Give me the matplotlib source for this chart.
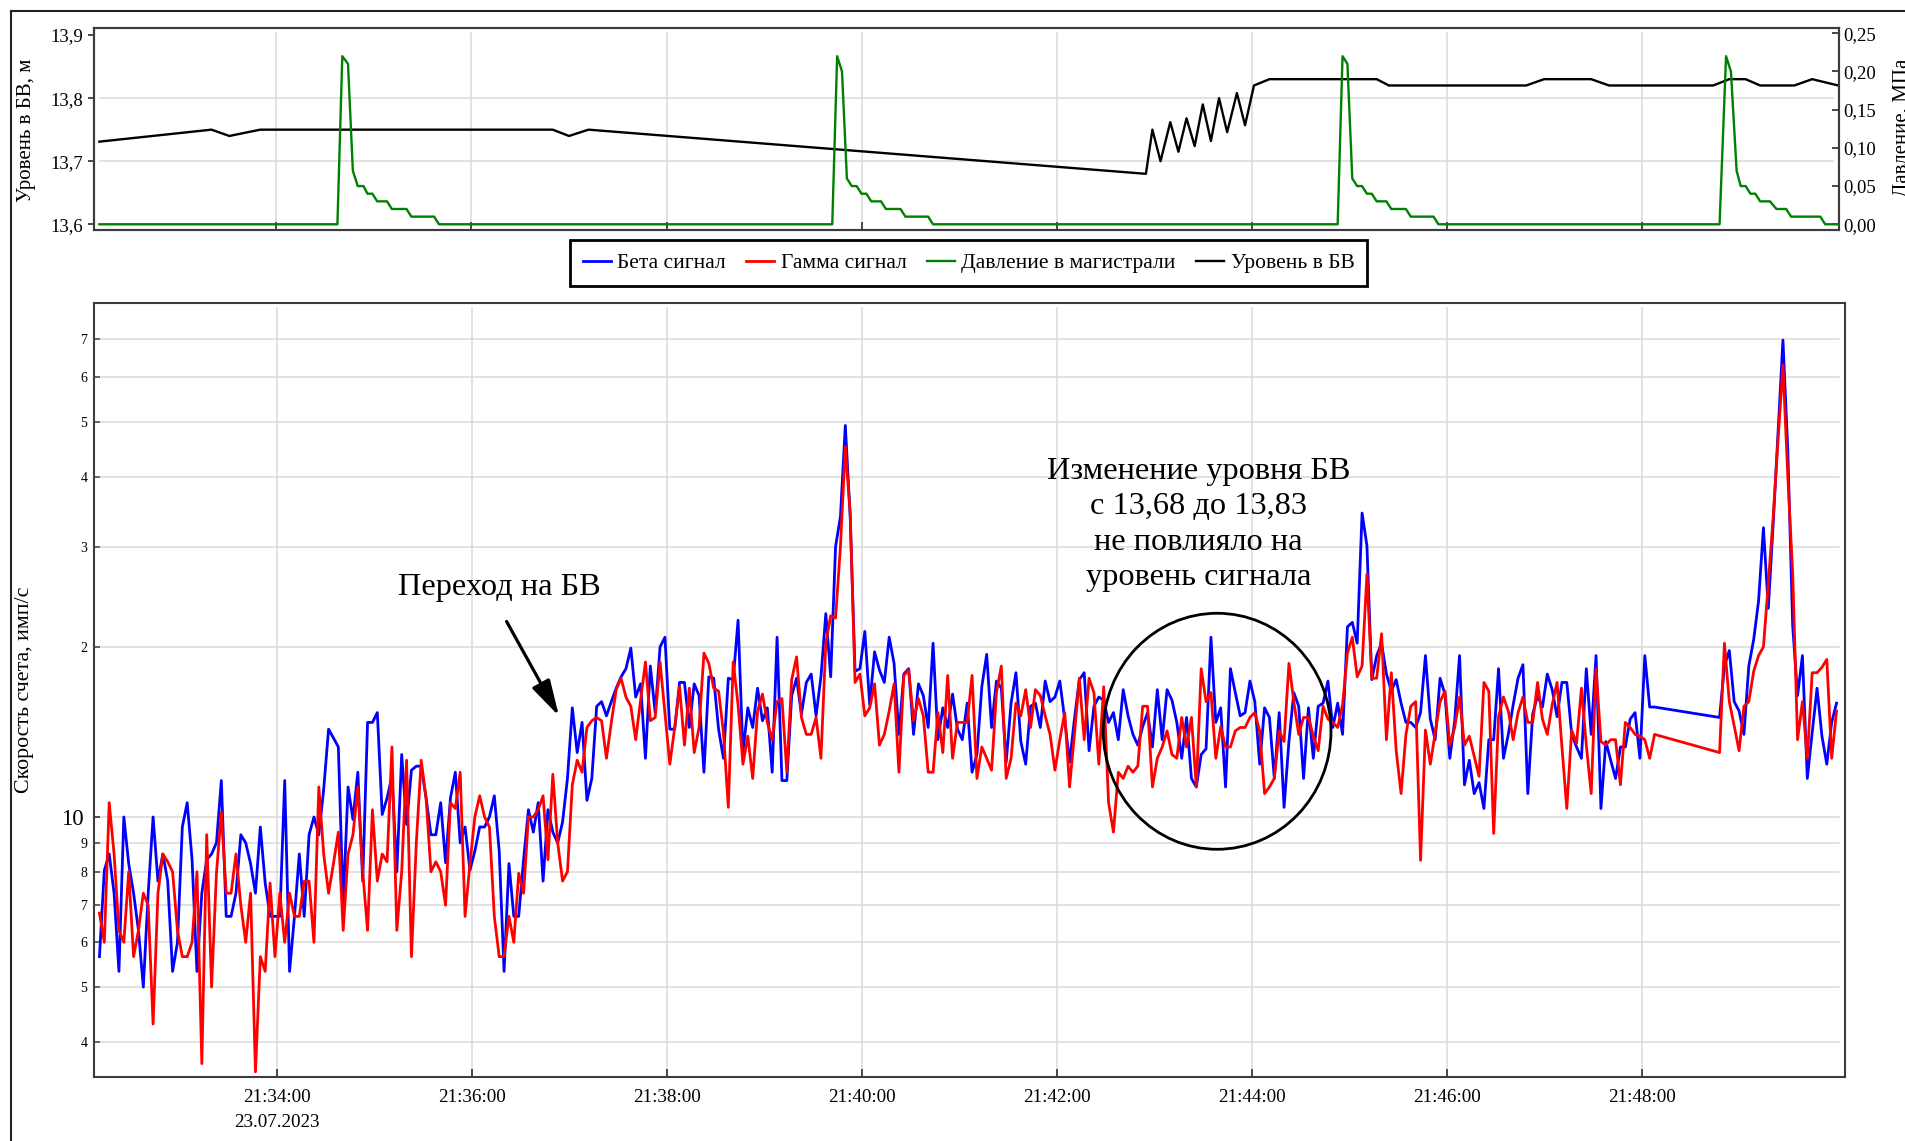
import numpy as np
import pandas as pd
import matplotlib
matplotlib.use('Agg')
import matplotlib.pyplot as plt
from matplotlib.patches import Ellipse
from matplotlib.lines import Line2D
import matplotlib.dates as mdates

plt.rcParams['font.family'] = ['Liberation Serif', 'DejaVu Serif']

day = '2023-07-23'
t_zero = '21:32:00'

# Count rates (imp/s), one sample every 3 s; the record has a pause 21:48:08 - 21:48:48
signal_start = '21:32:11'
signal_resume = '21:48:48'

beta_before_gap = [
    5.66, 8.05, 8.6, 7.33, 5.33, 10.0, 8.27, 7.33, 6.3, 5.0,
    7.33, 10.0, 7.7, 8.6, 7.7, 5.33, 6.0, 9.6, 10.6, 8.4,
    5.33, 7.33, 8.4, 8.6, 9.0, 11.6, 6.67, 6.67, 7.33, 9.3,
    9.0, 8.27, 7.33, 9.6, 7.64, 6.67, 6.67, 6.67, 11.6, 5.33,
    6.67, 8.6, 6.67, 9.3, 10.0, 9.3, 11.2, 14.3, 13.8, 13.3,
    7.0, 11.3, 9.9, 12.0, 7.7, 14.7, 14.7, 15.3, 10.1, 10.8,
    11.8, 8.0, 12.9, 9.7, 12.1, 12.3, 12.3, 10.8, 9.3, 9.3,
    10.6, 8.3, 10.8, 12.0, 9.0, 9.6, 8.05, 8.7, 9.6, 9.6,
    10.0, 10.9, 8.7, 5.33, 8.27, 6.67, 6.67, 8.4, 10.3, 9.4,
    10.6, 7.7,
    10.3, 9.4, 9.0, 9.8, 11.7, 15.6, 13.0, 14.7, 10.7, 11.7,
    15.7, 16.0, 15.1, 16.0, 16.9, 17.7, 18.3, 19.9, 16.3, 17.2,
    12.7, 18.5, 15.3, 20.0, 20.8, 14.3, 14.3, 17.3, 17.3, 14.4,
    17.2, 16.4, 12.0, 17.7, 17.6, 14.3, 12.7, 17.6, 17.5, 22.3,
    13.0, 15.6, 14.4, 16.9, 14.8, 15.6, 12.0, 20.8, 11.6, 11.6,
    16.4, 17.6, 15.2, 17.3, 17.9, 15.1, 17.7, 22.9, 17.7, 30.1,
    34.0, 49.3, 34.0, 18.1, 18.3, 21.3, 15.8, 19.6, 18.2, 17.3,
    20.8, 18.7, 14.0, 17.9, 18.3, 14.0, 17.2, 16.4, 14.4, 20.3,
    13.7, 15.6, 14.4, 16.5, 14.3, 13.7, 15.9, 12.0, 12.9,
    17.0, 19.4, 14.4, 17.4, 16.9, 12.5, 15.9, 18.0, 13.6, 12.4,
    15.7, 15.9, 14.4, 17.4, 16.0, 16.3, 17.4, 14.9, 12.5, 14.9,
    17.5, 18.0, 13.1, 15.7, 16.3, 16.1, 14.7, 15.3, 13.7, 16.8,
    15.1, 14.0, 13.4, 14.45, 15.3, 13.3, 16.8, 13.7, 16.8, 16.1,
    14.7, 12.7, 15.0, 11.7, 11.3, 12.9, 13.2, 20.8, 14.7, 15.6,
    11.3, 18.3, 16.6, 15.1, 15.3, 17.4, 16.0, 12.4, 15.6, 15.0,
    11.7, 15.3, 10.4, 13.6, 16.6, 15.7, 11.7, 15.6, 12.7, 15.7,
    15.9, 17.4, 14.4, 15.9, 14.0, 21.7, 22.1, 20.3, 34.5, 30.2,
    17.5, 19.3, 20.3, 17.9, 16.7, 17.5, 15.9, 14.7, 14.7, 14.4,
    15.3, 19.3, 14.9, 13.7, 17.6, 16.5, 12.7, 14.8, 19.3, 11.4,
    12.6, 11.0, 11.5, 10.35, 13.7, 13.7, 18.3, 12.7, 14.0, 15.8,
    17.6, 18.6, 11.0, 15.2, 16.4, 15.65, 17.9, 16.8, 15.05, 17.3,
    17.3, 14.0, 13.3, 12.7, 18.3, 14.0, 19.3, 10.35, 13.6, 12.6,
    11.7, 13.3, 13.3, 14.9, 15.3, 12.7, 19.3, 15.65, 15.65,
]
gamma_before_gap = [
    6.76, 6.0, 10.6, 8.6, 6.3, 6.0, 8.0, 5.66, 6.3, 7.33,
    6.98, 4.3, 7.33, 8.6, 8.33, 8.0, 6.3, 5.66, 5.66, 6.0,
    8.0, 3.66, 9.3, 5.0, 7.95, 10.2, 7.33, 7.33, 8.6, 6.98,
    6.0, 7.33, 3.54, 5.66, 5.33, 7.64, 5.66, 7.33, 6.0, 7.33,
    6.67, 6.67, 7.7, 7.7, 6.0, 11.3, 8.6, 7.33, 8.27, 9.4,
    6.3, 8.6, 9.3, 11.3, 8.0, 6.3, 10.3, 7.7, 8.6, 8.33,
    13.3, 6.3, 8.0, 12.6, 5.66, 9.0, 12.6, 10.8, 8.0, 8.33,
    8.0, 6.98, 10.6, 10.35, 12.0, 6.67, 8.27, 10.0, 10.9, 10.0,
    9.6, 6.67, 5.66, 5.66, 6.67, 6.0, 7.95, 7.33, 10.0, 10.0,
    10.3, 10.9,
    8.4, 11.9, 9.0, 7.7, 8.0, 11.4, 12.6, 12.0, 14.4, 14.8,
    15.0, 14.8, 12.7, 14.7, 16.8, 17.6, 16.3, 15.7, 13.7, 16.1,
    18.8, 14.8, 15.0, 18.8, 15.3, 12.4, 14.4, 17.0, 13.4, 16.9,
    13.0, 14.4, 19.5, 18.7, 16.9, 16.7, 14.1, 10.4, 18.8, 15.8,
    12.4, 13.9, 11.7, 15.4, 16.5, 14.7, 13.7, 16.0, 16.2, 12.0,
    17.5, 19.2, 15.0, 14.0, 14.0, 15.0, 12.7, 20.3, 22.7, 22.5,
    30.1, 45.2, 34.5, 17.3, 17.9, 15.1, 15.6, 17.2, 13.4, 14.0,
    15.4, 17.2, 12.0, 17.8, 18.2, 14.8, 16.2, 15.1, 12.0, 12.0,
    15.3, 13.0, 17.8, 12.7, 14.7, 14.7, 14.7, 17.8, 11.7,
    13.3, 12.7, 12.1, 16.6, 18.5, 11.7, 12.7, 15.9, 15.1, 16.8,
    14.4, 16.8, 16.4, 15.1, 14.0, 12.1, 13.7, 15.3, 11.3, 14.0,
    17.6, 13.7, 17.6, 16.6, 12.4, 17.0, 10.6, 9.4, 12.0, 11.7,
    12.3, 12.0, 12.3, 15.7, 15.7, 11.3, 12.7, 13.3, 14.2, 12.9,
    12.7, 15.0, 13.3, 15.0, 11.3, 18.3, 16.0, 16.6, 12.7, 14.45,
    13.3, 13.3, 14.2, 14.4, 14.4, 15.0, 15.3, 14.2, 11.0, 11.3,
    11.7, 14.2, 13.6, 18.7, 16.0, 14.0, 15.0, 15.0, 13.9, 13.1,
    15.7, 14.9, 14.7, 14.4, 15.8, 19.5, 20.8, 17.7, 18.5, 26.9,
    17.6, 17.6, 21.1, 13.7, 18.0, 13.1, 11.0, 14.0, 15.7, 16.0,
    8.38, 14.25, 12.4, 14.1, 16.0, 16.7, 13.4, 14.4, 16.3, 13.4,
    13.9, 12.8, 11.8, 17.3, 16.7, 9.35, 15.05, 16.3, 15.4, 13.7,
    15.3, 16.3, 14.7, 14.7, 17.3, 14.9, 14.0, 15.8, 17.3, 13.3,
    10.35, 14.25, 13.5, 16.9, 13.4, 11.0, 18.3, 13.6, 13.4, 13.7,
    13.7, 11.4, 14.7, 14.4, 14.0, 13.9, 13.7, 12.7, 14.0,
]
beta_after_gap = [
    15.0, 18.5, 19.7, 16.0, 15.4, 14.0, 18.5, 20.6, 24.1, 32.5,
    23.4, 33.0, 48.0, 69.8, 44.6, 21.8, 16.4, 19.3, 11.7, 14.1,
    16.9, 13.9, 12.4, 14.7, 15.9,
]
gamma_after_gap = [
    13.0, 20.3, 16.0, 14.5, 13.1, 15.7, 16.0, 18.1, 19.3, 20.0,
    25.9, 34.0, 46.5, 63.0, 40.0, 27.0, 13.7, 16.0, 12.7, 18.0,
    18.0, 18.4, 19.0, 12.7, 15.4,
]

# Water level in the tank (m), seconds after 21:32:00
level_sec = [11, 80, 91, 110, 290, 300, 312, 655, 659, 664, 670, 675, 680, 685,
             690, 695, 700, 705, 711, 716, 721.5, 731, 797, 804.5, 889, 900,
             929, 940, 1004, 1014, 1024, 1033, 1054, 1065, 1081]
level_m = [13.731, 13.75, 13.74, 13.75, 13.75, 13.74, 13.75, 13.68, 13.75, 13.70,
           13.762, 13.715, 13.768, 13.724, 13.79, 13.732, 13.80, 13.746, 13.808,
           13.757, 13.82, 13.83, 13.83, 13.82, 13.82, 13.83, 13.83, 13.82, 13.82,
           13.83, 13.83, 13.82, 13.82, 13.83, 13.82]

# Line pressure (MPa), seconds after 21:32:00
pressure_sec = [11,
                157.5, 160.5, 164, 167, 170, 173.5, 176, 179, 182, 188, 191, 200, 203, 217, 220,
                462, 465, 468, 471, 474, 477, 480, 483, 486, 492, 495, 504, 507, 521, 524,
                773, 776, 779, 782, 785, 788, 791, 794, 797, 803, 806, 815, 818, 832, 835,
                1008, 1012, 1015, 1018.5, 1021, 1024, 1027, 1030, 1033, 1039, 1043, 1049, 1052, 1070, 1073,
                1081]
pressure_mpa = [0,
                0, 0.22, 0.21, 0.07, 0.05, 0.05, 0.04, 0.04, 0.03, 0.03, 0.02, 0.02, 0.01, 0.01, 0,
                0, 0.22, 0.20, 0.06, 0.05, 0.05, 0.04, 0.04, 0.03, 0.03, 0.02, 0.02, 0.01, 0.01, 0,
                0, 0.22, 0.21, 0.06, 0.05, 0.05, 0.04, 0.04, 0.03, 0.03, 0.02, 0.02, 0.01, 0.01, 0,
                0, 0.22, 0.20, 0.07, 0.05, 0.05, 0.04, 0.04, 0.03, 0.03, 0.02, 0.02, 0.01, 0.01, 0,
                0]

xtick_times = ['21:34:00', '21:36:00', '21:38:00', '21:40:00',
               '21:42:00', '21:44:00', '21:46:00', '21:48:00']
xtick_labels = ['21:34:00\n23.07.2023', '21:36:00', '21:38:00', '21:40:00',
                '21:42:00', '21:44:00', '21:46:00', '21:48:00']
rate_minor_ticks = [4, 5, 6, 7, 8, 9, 20, 30, 40, 50, 60, 70]
rate_minor_labels = ['4', '5', '6', '7', '8', '9', '2', '3', '4', '5', '6', '7']
level_ticks = [13.6, 13.7, 13.8, 13.9]
level_labels = ['13,6', '13,7', '13,8', '13,9']
pressure_ticks = [0.0, 0.05, 0.10, 0.15, 0.20, 0.25]
pressure_labels = ['0,00', '0,05', '0,10', '0,15', '0,20', '0,25']
series_names = ['Бета сигнал', 'Гамма сигнал', 'Давление в магистрали', 'Уровень в БВ']
caption_lines = ['Изменение уровня БВ', 'с 13,68 до 13,83', 'не повлияло на', 'уровень сигнала']

GRID = '#dadada'
SPINE = '#3c3c3c'

base = pd.Timestamp(f'{day} {t_zero}')
t_sig = pd.date_range(f'{day} {signal_start}', periods=len(beta_before_gap), freq='3s').append(
    pd.date_range(f'{day} {signal_resume}', periods=len(beta_after_gap), freq='3s')).to_numpy()
beta = np.array(beta_before_gap + beta_after_gap)
gamma = np.array(gamma_before_gap + gamma_after_gap)
t_level = (base + pd.to_timedelta(level_sec, unit='s')).to_numpy()
t_press = (base + pd.to_timedelta(pressure_sec, unit='s')).to_numpy()
tick_pos = pd.to_datetime([f'{day} {t}' for t in xtick_times]).to_numpy()

fig = plt.figure(figsize=(19.06, 11.41), dpi=100)
ax_top = fig.add_axes([0.04948, 0.79842, 0.91537, 0.17677])
ax_p = ax_top.twinx()
ax = fig.add_axes([0.04911, 0.05609, 0.91889, 0.67862])

# top panel
l_level, = ax_top.plot(t_level, level_m, color='black', lw=1.7, zorder=3)
l_press, = ax_p.plot(t_press, pressure_mpa, color='#008000', lw=1.7, zorder=3)
ax_top.set_ylim(13.591, 13.9106)
ax_p.set_ylim(-0.0075, 0.2565)
ax_top.set_xlim(base + pd.Timedelta(seconds=7.9), base + pd.Timedelta(seconds=1081.5))

ax_top.set_yticks(level_ticks, level_labels)
ax_p.set_yticks(pressure_ticks, pressure_labels)
ax_top.set_xticks(tick_pos)
ax_top.tick_params(axis='x', direction='in', length=6, width=1.3, color=SPINE, labelbottom=False)
ax_top.tick_params(axis='y', direction='out', length=4, width=1.3, color=SPINE, labelsize=13.5, pad=4)
ax_p.tick_params(axis='y', direction='in', length=5, width=1.3, color=SPINE, labelsize=13.5, pad=3)

# bottom panel
l_beta, = ax.plot(t_sig, beta, color='#0000ff', lw=2.0, zorder=3)
l_gamma, = ax.plot(t_sig, gamma, color='#ff0000', lw=2.0, zorder=4)
ax.set_yscale('log')
ax.set_ylim(3.466, 81.3)
ax.set_xlim(base + pd.Timedelta(seconds=7.4), base + pd.Timedelta(seconds=1085.2))
ax.set_xticks(tick_pos, xtick_labels)
ax.set_yticks([10], ['10'])
ax.set_yticks(rate_minor_ticks, rate_minor_labels, minor=True)
ax.tick_params(axis='x', direction='in', length=5.5, width=1.3, color=SPINE, labelsize=13.8, pad=8.5)
ax.tick_params(axis='y', which='major', direction='in', length=4.5, width=1.3, color=SPINE,
               labelsize=16.5, pad=7)
ax.tick_params(axis='y', which='minor', direction='in', length=4.5, width=1.1, color=SPINE,
               labelsize=10, pad=4.5)
for lab in ax.get_xticklabels():
    lab.set_linespacing(1.6)

for a in (ax_top, ax_p, ax):
    for s in a.spines.values():
        s.set_color(SPINE)
        s.set_linewidth(1.5)


def inset_grid(a, xs, ys, xin, ytop):
    xnum = mdates.date2num(xs)
    for y in ys:
        a.plot([xin, 1 - xin], [y, y], transform=a.get_yaxis_transform(),
               color=GRID, lw=1.1, zorder=0.5)
    for x in xnum:
        a.plot([x, x], [0, 1 - ytop], transform=a.get_xaxis_transform(),
               color=GRID, lw=1.1, zorder=0.5)


inset_grid(ax_top, tick_pos, [13.7, 13.8], 0.0035, 0.025)
inset_grid(ax, tick_pos, rate_minor_ticks + [10], 0.0035, 0.007)
ax_top.set_ylim(13.591, 13.9106)
ax.set_ylim(3.466, 81.3)

# axis titles (the right one runs off the page edge, as in the source image)
fig.text(26.7 / 1906, 1 - 130 / 1141, 'Уровень в БВ, м', rotation=90, ha='center', va='center', fontsize=15)
fig.text(1903 / 1906, 1 - 128 / 1141, 'Давление, МПа', rotation=90, ha='center', va='center', fontsize=15)
fig.text(25 / 1906, 1 - 690 / 1141, 'Скорость счета, имп/с', rotation=90, ha='center', va='center', fontsize=15.8)

# legend
leg = fig.legend([l_beta, l_gamma, l_press, l_level], series_names, loc='center',
                 bbox_to_anchor=(968.5 / 1906, 1 - 263 / 1141), ncol=4, fontsize=15.5,
                 frameon=True, fancybox=False, edgecolor='black', framealpha=1,
                 handlelength=1.3, handletextpad=0.3, columnspacing=0.95, borderpad=0.6)
leg.get_frame().set_linewidth(2.0)

# annotations
ax.text(0.2319, 0.6225, 'Переход на БВ', transform=ax.transAxes, ha='center', va='baseline', fontsize=23.3)
ax.annotate('', xy=(0.2657, 0.4662), xytext=(0.2358, 0.5883), xycoords='axes fraction',
            textcoords='axes fraction',
            arrowprops=dict(arrowstyle='-|>,head_length=1.1,head_width=0.3', mutation_scale=20,
                            lw=2.3, color='black', shrinkA=0, shrinkB=0))
for line, yb in zip(caption_lines, [0.7723, 0.7271, 0.6812, 0.6358]):
    ax.text(0.6309, yb, line, transform=ax.transAxes, ha='center', va='baseline', fontsize=23.3)
ax.add_patch(Ellipse((0.6415, 0.4465), 0.1300, 0.3048, transform=ax.transAxes,
                     fill=False, edgecolor='black', lw=2.0, zorder=6))

# outer frame
fig.add_artist(Line2D([11 / 1906, 11 / 1906], [0, 1 - 10.7 / 1141], transform=fig.transFigure,
                      color='#222222', lw=1.5))
fig.add_artist(Line2D([11 / 1906, 1], [1 - 10.7 / 1141, 1 - 10.7 / 1141], transform=fig.transFigure,
                      color='#222222', lw=1.5))

fig.savefig('out.png', dpi=100)
